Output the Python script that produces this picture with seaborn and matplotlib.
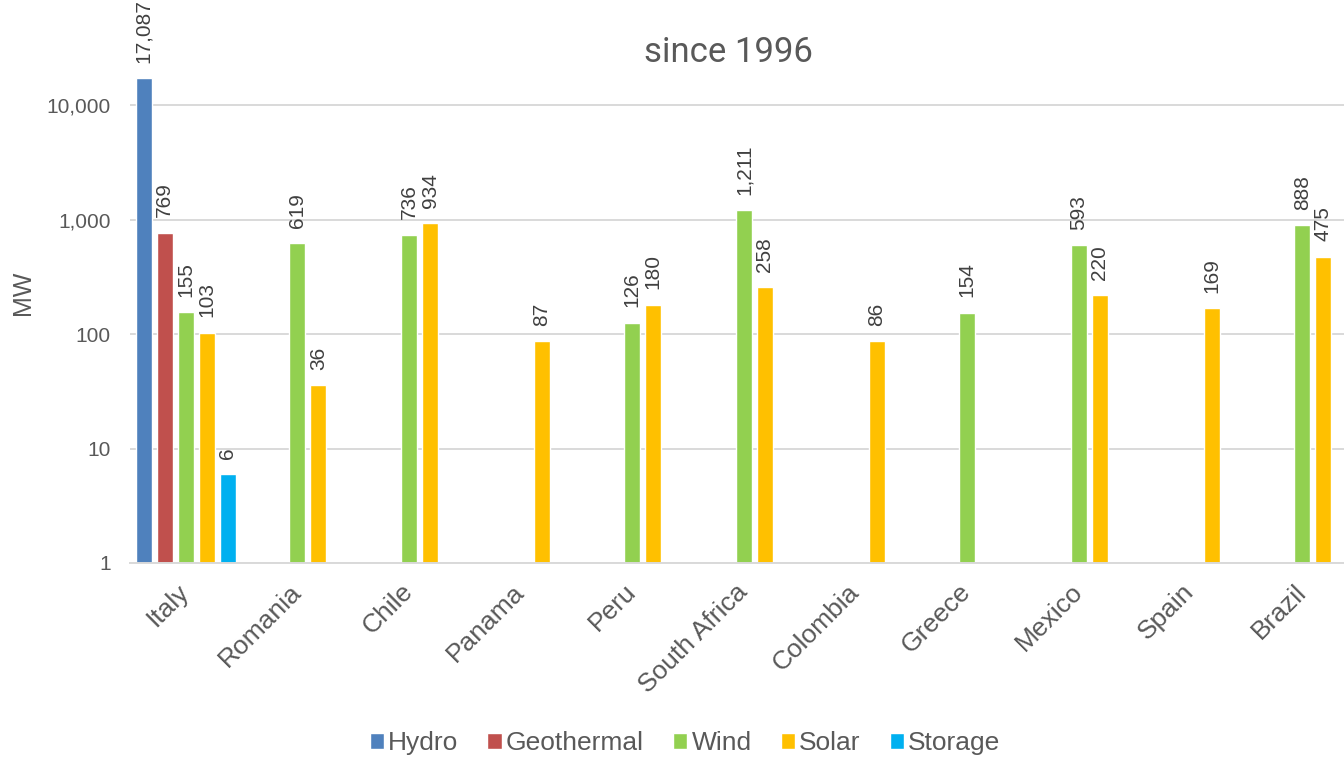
import numpy as np
import pandas as pd
import matplotlib
matplotlib.use('Agg')
import matplotlib.pyplot as plt
from matplotlib.patches import Patch
from matplotlib.ticker import NullLocator
import seaborn as sns

# ===== DATA =====
countries = ['Italy', 'Romania', 'Chile', 'Panama', 'Peru', 'South Africa',
             'Colombia', 'Greece', 'Mexico', 'Spain', 'Brazil']
types = ['Hydro', 'Geothermal', 'Wind', 'Solar', 'Storage']
nan = np.nan
hydro = [17087, nan, nan, nan, nan, nan, nan, nan, nan, nan, nan]
geothermal = [769, nan, nan, nan, nan, nan, nan, nan, nan, nan, nan]
wind = [155, 619, 736, nan, 126, 1211, nan, 154, 593, nan, 888]
solar = [103, 36, 934, 87, 180, 258, 86, nan, 220, 169, 475]
storage = [6, nan, nan, nan, nan, nan, nan, nan, nan, nan, nan]
y_ticks = [1, 10, 100, 1000, 10000]
# ================

colors = {'Hydro': '#4F81BD', 'Geothermal': '#C0504D', 'Wind': '#92D050',
          'Solar': '#FFC000', 'Storage': '#00B0F0'}

wide = pd.DataFrame({'Country': countries, 'Hydro': hydro,
                     'Geothermal': geothermal, 'Wind': wind,
                     'Solar': solar, 'Storage': storage})
df = wide.melt(id_vars='Country', var_name='Type', value_name='MW').dropna()

sns.set_style("white")
plt.rcParams['font.family'] = ['Liberation Sans', 'DejaVu Sans']

W, H = 1344, 758
fig = plt.figure(figsize=(W / 100, H / 100), dpi=100)
ax = fig.add_axes([130 / W, (H - 563) / H, 1228 / W, 563 / H])
ax.set_yscale('log')

sns.barplot(data=df, x='Country', y='MW', hue='Type', order=countries,
            hue_order=types, palette=colors, saturation=1, errorbar=None,
            width=0.94, gap=0.24, legend=False, ax=ax)

ax.set_ylim(1, 10 ** (4 + 105 / 114.5))
ax.set_xlim(-0.5, len(countries) - 0.5)

# rotated value labels above each bar
for cont in ax.containers:
    ax.bar_label(cont, fmt='{:,.0f}', rotation=90, padding=11,
                 fontsize=15, color='#404040')

ax.set_yticks(y_ticks)
ax.set_yticklabels([f'{v:,}' for v in y_ticks])
ax.yaxis.set_minor_locator(NullLocator())
ax.yaxis.grid(True, color='#d9d9d9', lw=1.4)
ax.set_axisbelow(True)
for side in ['top', 'right', 'left']:
    ax.spines[side].set_visible(False)
ax.spines['bottom'].set_color('#d9d9d9')
ax.spines['bottom'].set_linewidth(1.4)
ax.tick_params(axis='both', length=0, colors='#595959')
ax.tick_params(axis='y', pad=14, labelsize=15)
ax.tick_params(axis='x', pad=18, labelsize=19)
plt.setp(ax.get_xticklabels(), rotation=45, ha='right', va='center',
         rotation_mode='anchor')
ax.set_xlabel('')
ax.set_ylabel('')

fig.text(23 / W, 1 - 293 / H, 'MW', rotation=90, ha='center', va='center',
         fontsize=18, color='#595959')
fig.text(728 / W, 1 - 52 / H, 'since 1996', ha='center', va='center',
         fontsize=25, color='#595959', family=['Roboto', 'DejaVu Sans'])

handles = [Patch(facecolor=colors[t], label=t) for t in types]
fig.legend(handles=handles, loc='center', bbox_to_anchor=(685 / W, 1 - 743 / H),
           ncol=5, frameon=False, fontsize=19, handlelength=0.55,
           handleheight=0.55, handletextpad=0.15, columnspacing=1.1,
           labelcolor='#595959')

fig.savefig('out.png', dpi=100)
